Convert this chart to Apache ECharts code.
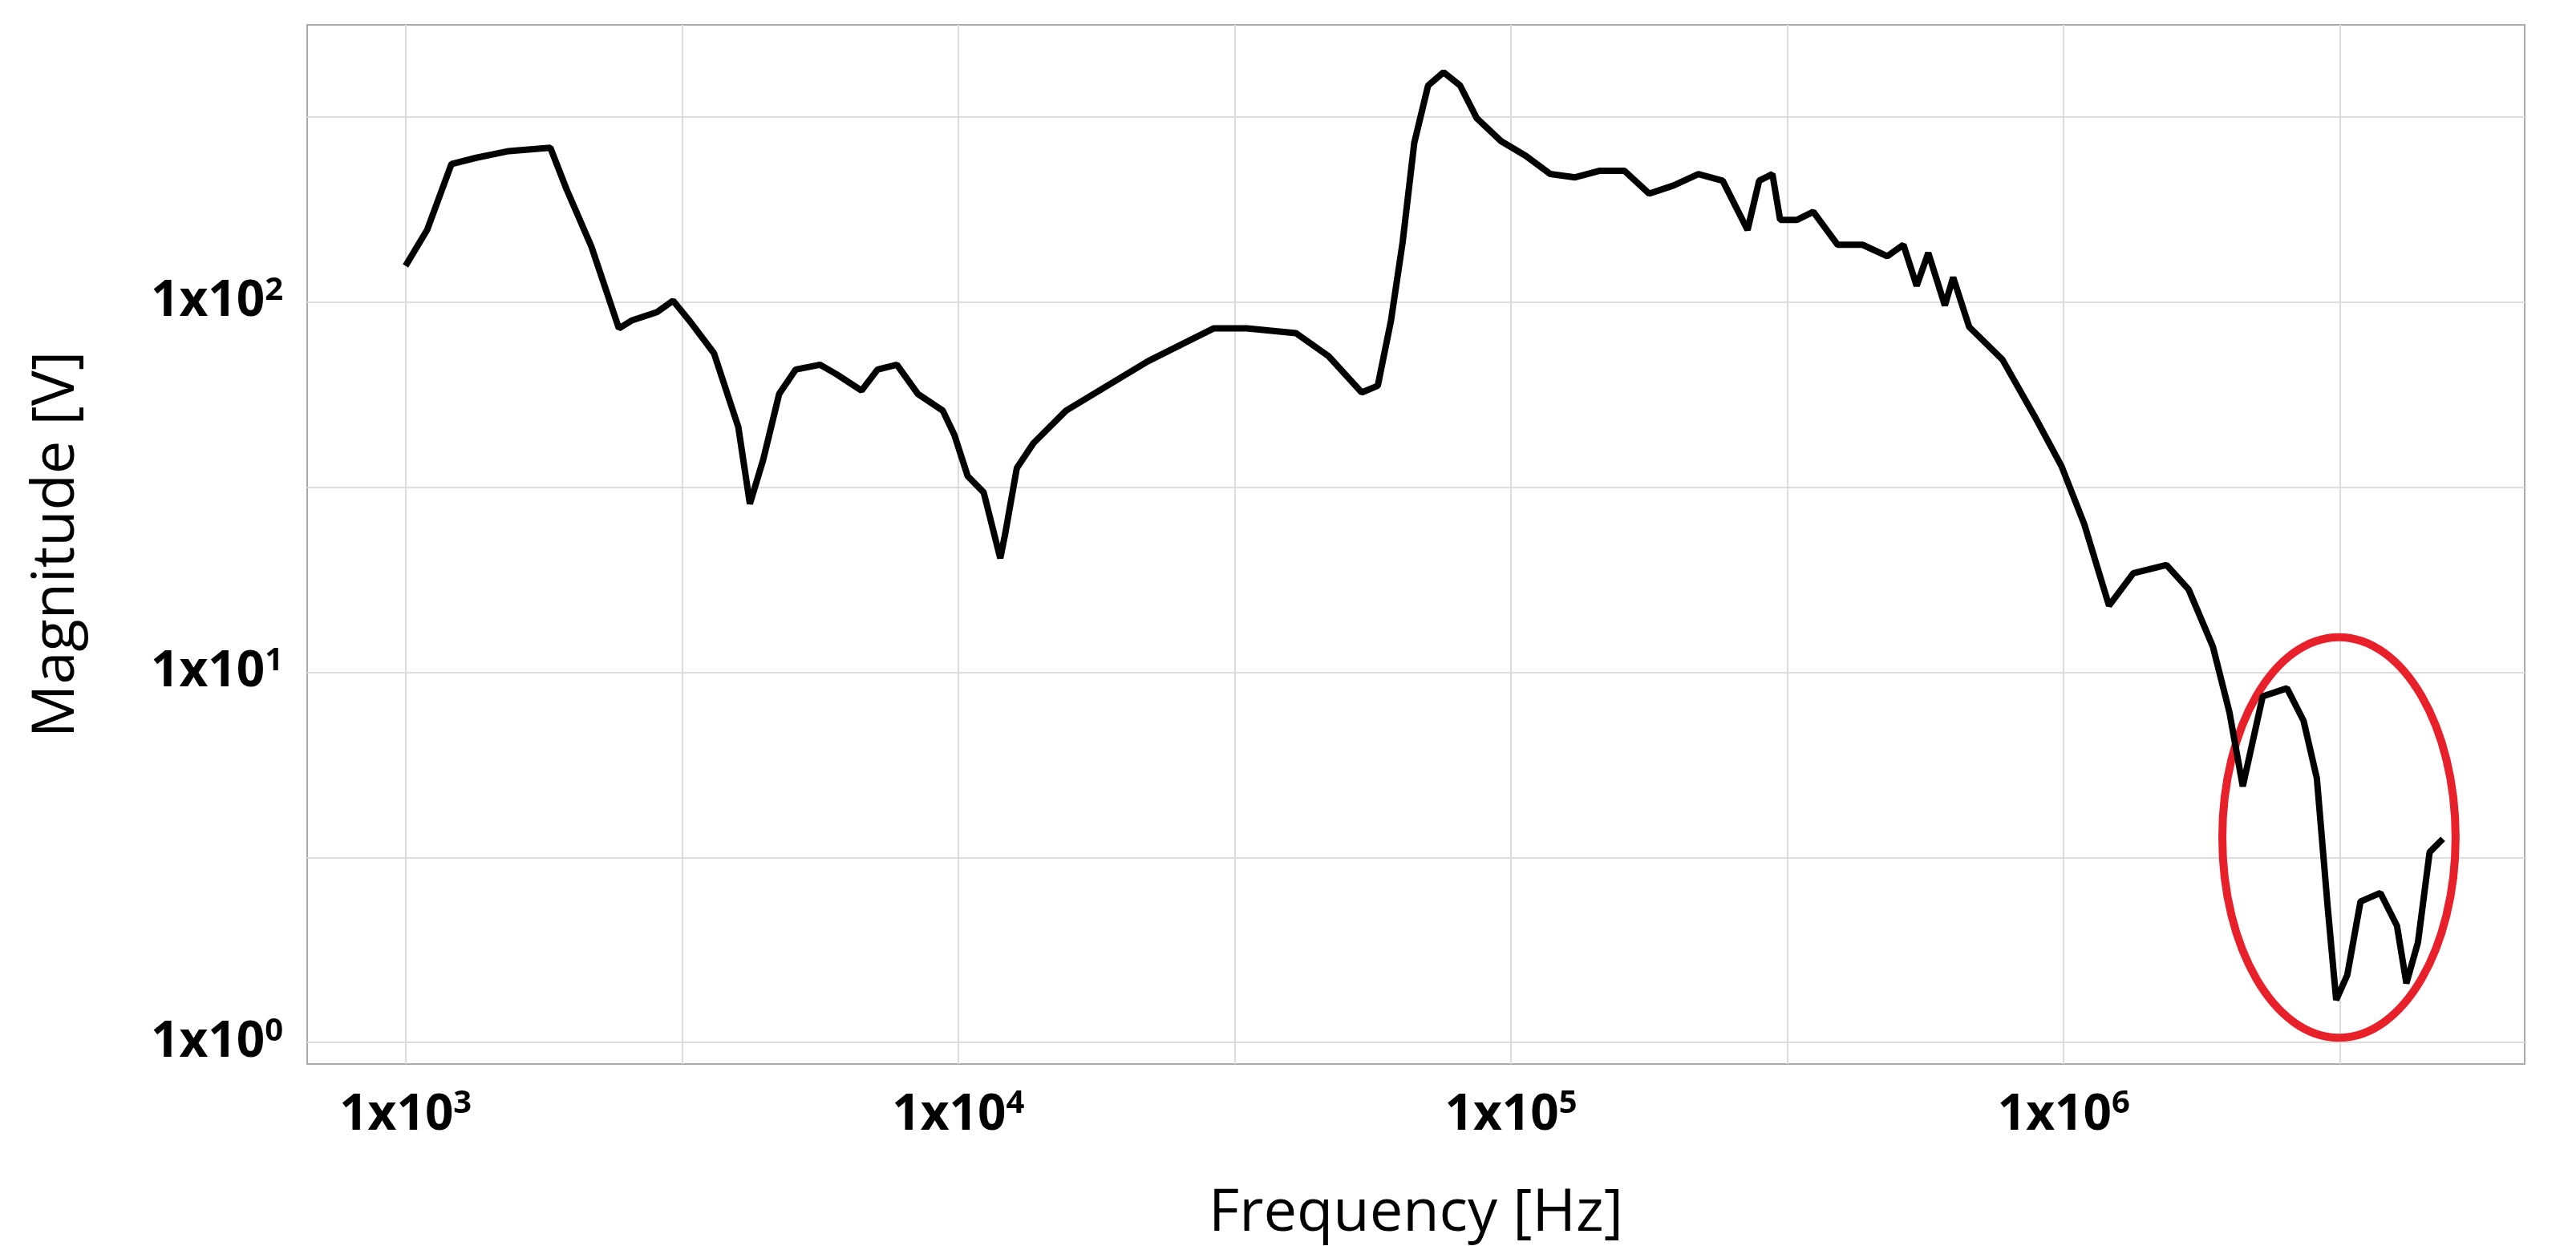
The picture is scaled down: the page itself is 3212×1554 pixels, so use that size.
<!DOCTYPE html>
<html><head><meta charset="utf-8">
<script src="https://cdn.jsdelivr.net/npm/echarts@6/dist/echarts.min.js"></script>
<style>html,body{margin:0;background:#fff}#c{width:3212px;height:1554px}</style>
</head><body><div id="c"></div>
<script>
// values, stored as log10(frequency Hz) and log10(magnitude V)
const logFreq = [3.000,3.039,3.083,3.128,3.187,3.262,3.291,3.336,3.386,3.410,3.455,3.484,3.513,3.558,3.602,3.623,3.647,3.676,3.706,3.750,3.780,3.825,3.854,3.889,3.927,3.972,3.993,4.017,4.046,4.076,4.085,4.106,4.136,4.195,4.284,4.343,4.403,4.462,4.522,4.611,4.670,4.730,4.759,4.783,4.804,4.825,4.850,4.878,4.908,4.938,4.982,5.027,5.071,5.116,5.161,5.205,5.250,5.294,5.339,5.383,5.428,5.449,5.473,5.487,5.517,5.547,5.591,5.636,5.681,5.710,5.734,5.755,5.785,5.800,5.829,5.889,5.948,5.996,6.037,6.082,6.126,6.186,6.226,6.270,6.300,6.324,6.360,6.404,6.434,6.458,6.478,6.493,6.513,6.537,6.573,6.603,6.620,6.641,6.662,6.686];
const logMag = [2.098,2.195,2.373,2.390,2.408,2.417,2.306,2.151,1.929,1.951,1.973,2.004,1.951,1.862,1.663,1.455,1.574,1.752,1.818,1.831,1.805,1.761,1.818,1.831,1.752,1.707,1.641,1.530,1.486,1.308,1.375,1.552,1.619,1.707,1.787,1.840,1.885,1.929,1.929,1.916,1.854,1.756,1.774,1.951,2.162,2.430,2.585,2.621,2.585,2.497,2.435,2.395,2.346,2.337,2.355,2.355,2.293,2.315,2.346,2.328,2.195,2.328,2.346,2.222,2.222,2.244,2.155,2.155,2.124,2.155,2.044,2.133,1.991,2.067,1.933,1.845,1.690,1.557,1.401,1.180,1.268,1.290,1.224,1.069,0.891,0.692,0.935,0.957,0.869,0.714,0.359,0.115,0.182,0.381,0.404,0.315,0.160,0.271,0.514,0.550];
const xTicks = [3, 4, 5, 6];
const yTicks = [0, 1, 2];
const xGrid = [3, 3.5, 4, 4.5, 5, 5.5, 6, 6.5];
const yGrid = [0, 0.5, 1, 1.5, 2, 2.5];

const chart = echarts.init(document.getElementById('c'));
const sup = {b:{fontSize:62,fontWeight:'bold',color:'#000',fontFamily:'Open Sans'},s:{fontSize:40,fontWeight:'bold',color:'#000',fontFamily:'Open Sans',verticalAlign:'top',padding:[0,0,28,0]}};
const fmt = v => (Math.abs(v - Math.round(v)) < 1e-6) ? '{b|1x10}{s|' + Math.round(v) + '}' : '';
chart.setOption({
  animation: false,
  grid: {left: 383, right: 64, top: 31, bottom: 227, outerBoundsMode: 'none', show: true, borderColor: '#aaa', borderWidth: 2},
  xAxis: {
    type: 'value', min: 2.822, max: 6.834,
    name: 'Frequency [Hz]', nameLocation: 'middle', nameGap: 150,
    nameTextStyle: {fontSize: 74, color: '#000', fontFamily: 'Open Sans'},
    axisLine: {show: false}, axisTick: {show: false, customValues: xGrid},
    splitLine: {lineStyle: {color: '#ddd', width: 2}},
    axisLabel: {formatter: fmt, rich: sup, margin: 30, customValues: xTicks}
  },
  yAxis: {
    type: 'value', min: -0.058, max: 2.749,
    name: 'Magnitude [V]', nameLocation: 'middle', nameGap: 275,
    nameTextStyle: {fontSize: 74, color: '#000', fontFamily: 'Open Sans'},
    axisLine: {show: false}, axisTick: {show: false, customValues: yGrid},
    splitLine: {lineStyle: {color: '#ddd', width: 2}},
    axisLabel: {formatter: fmt, rich: sup, margin: 30, customValues: yTicks}
  },
  series: [{type: 'line', data: logFreq.map((x, i) => [x, logMag[i]]), showSymbol: false,
    lineStyle: {color: '#000', width: 8}}]
});
const c = chart.convertToPixel({gridIndex: 0}, [6.498, 0.554]);
const e = chart.convertToPixel({gridIndex: 0}, [6.709, 1.095]);
chart.setOption({graphic: [{type: 'ellipse', shape: {cx: c[0], cy: c[1], rx: e[0] - c[0], ry: c[1] - e[1]},
  style: {fill: 'none', stroke: '#e8202a', lineWidth: 10}}]});
</script></body></html>
